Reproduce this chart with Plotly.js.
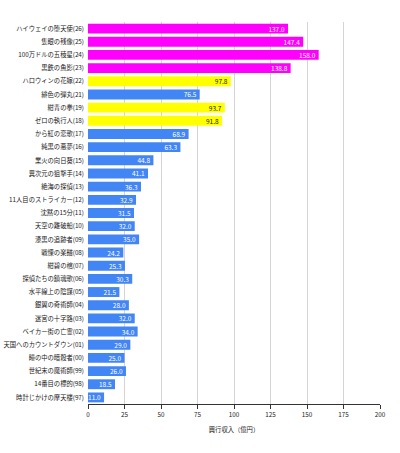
<!DOCTYPE html>
<html>
<head>
<meta charset="utf-8">
<script src="https://cdn.plot.ly/plotly-3.0.1.min.js"></script>
<style>html,body{margin:0;padding:0;background:#fff;}#chart{width:400px;height:453px;}</style>
</head>
<body>
<div id="chart"></div>
<script>
const titles = [
  "ハイウェイの堕天使(26)", "隻眼の残像(25)", "100万ドルの五稜星(24)", "黒鉄の魚影(23)",
  "ハロウィンの花嫁(22)", "緋色の弾丸(21)", "紺青の拳(19)", "ゼロの執行人(18)",
  "から紅の恋歌(17)", "純黒の悪夢(16)", "業火の向日葵(15)", "異次元の狙撃手(14)",
  "絶海の探偵(13)", "11人目のストライカー(12)", "沈黙の15分(11)", "天空の難破船(10)",
  "漆黒の追跡者(09)", "戦慄の楽譜(08)", "紺碧の棺(07)", "探偵たちの鎮魂歌(06)",
  "水平線上の陰謀(05)", "銀翼の奇術師(04)", "迷宮の十字路(03)", "ベイカー街の亡霊(02)",
  "天国へのカウントダウン(01)", "瞳の中の暗殺者(00)", "世紀末の魔術師(99)", "14番目の標的(98)",
  "時計じかけの摩天楼(97)"
];
const revenue = [
  137.0, 147.4, 158.0, 138.8,
  97.8, 76.5, 93.7, 91.8,
  68.9, 63.3, 44.8, 41.1,
  36.3, 32.9, 31.5, 32.0,
  35.0, 24.2, 25.3, 30.3,
  21.5, 28.0, 32.0, 34.0,
  29.0, 25.0, 26.0, 18.5,
  11.0
];
// group: m = magenta, y = yellow, b = blue
const groups = [
  "m","m","m","m",
  "y","b","y","y",
  "b","b","b","b",
  "b","b","b","b",
  "b","b","b","b",
  "b","b","b","b",
  "b","b","b","b",
  "b"
];
const xTicks = [0, 25, 50, 75, 100, 125, 150, 175, 200];
const xTitle = "興行収入（億円）";

const fillMap = {m: "#ff00ff", y: "#ffff00", b: "#4285f4"};
const textMap = {m: "#ffffff", y: "#222222", b: "#ffffff"};
const FONT = "'Noto Sans CJK JP', 'Noto Sans', sans-serif";

const trace = {
  type: "bar",
  orientation: "h",
  x: revenue,
  y: titles,
  marker: {color: groups.map(g => fillMap[g]), line: {width: 0}},
  text: revenue.map(v => v.toFixed(1)),
  textposition: "inside",
  insidetextanchor: "end",
  constraintext: "none",
  textfont: {family: FONT, size: 6.5, color: groups.map(g => textMap[g])},
  cliponaxis: false,
  hoverinfo: "none"
};

const layout = {
  width: 400, height: 453,
  margin: {l: 88, r: 20, t: 22, b: 49},
  paper_bgcolor: "#fff", plot_bgcolor: "#fff",
  bargap: 0.25,
  showlegend: false,
  font: {family: FONT, size: 6.3, color: "#222"},
  xaxis: {
    range: [0, 200],
    tickvals: xTicks,
    ticktext: xTicks.map(String),
    showgrid: true, gridcolor: "#d4d4d4", gridwidth: 1,
    zeroline: false,
    showline: true, linecolor: "#333", linewidth: 1,
    ticks: "outside", ticklen: 4, tickcolor: "#333",
    tickfont: {size: 6.3, color: "#222"},
    title: {text: xTitle, font: {size: 6.3, color: "#222"}, standoff: 10}
  },
  yaxis: {
    type: "category",
    autorange: "reversed",
    showgrid: false, zeroline: false, showline: false,
    ticks: "", ticklen: 0,
    ticklabelstandoff: 3,
    tickfont: {size: 6.3, color: "#222"},
    automargin: false
  }
};

Plotly.newPlot("chart", [trace], layout, {displayModeBar: false, staticPlot: true});
</script>
</body>
</html>
